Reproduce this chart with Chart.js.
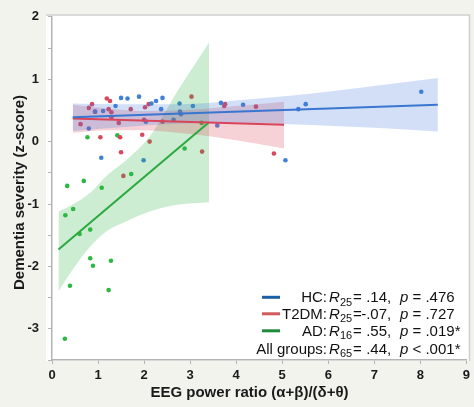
<!DOCTYPE html>
<html>
<head>
<meta charset="utf-8">
<script src="https://cdn.jsdelivr.net/npm/chart.js@4.4.0/dist/chart.umd.min.js"></script>
<style>
  html, body { margin: 0; padding: 0; background: #f3f3ee; }
</style>
</head>
<body>
<canvas id="chart" width="474" height="407"></canvas>
<script>
// scatter data
const hcX = [0.80, 0.94, 1.07, 1.11, 1.38, 1.50, 1.64, 1.89, 1.99, 2.04, 2.16, 2.26, 2.37, 2.40, 2.64, 2.77, 2.78, 2.80, 3.06, 3.59, 3.67, 4.15, 5.07, 5.35, 5.51, 8.02];
const hcY = [0.21, 0.48, -0.26, 0.49, 0.57, 0.70, 0.69, 0.72, -0.30, 0.32, 0.61, 0.65, 0.52, 0.70, 0.35, 0.61, 0.48, 0.44, 0.57, 0.26, 0.62, 0.59, -0.30, 0.52, 0.60, 0.80];

const t2X = [0.62, 0.80, 0.87, 0.93, 1.05, 1.19, 1.23, 1.26, 1.29, 1.29, 1.45, 1.48, 1.50, 1.55, 1.71, 1.96, 2.00, 2.02, 2.10, 2.12, 2.40, 3.03, 3.26, 3.74, 3.76, 4.43, 4.82];
const t2Y = [0.28, 0.54, 0.60, 0.48, 0.07, 0.69, 0.52, 0.65, 0.47, 0.39, 0.30, 0.07, -0.17, -0.55, 0.52, 0.11, 0.35, 0.55, 0.60, 0.00, 0.32, 0.72, -0.16, 0.57, 0.60, 0.56, -0.19];

const adX = [0.28, 0.29, 0.33, 0.39, 0.46, 0.60, 0.69, 0.77, 0.83, 0.83, 0.89, 1.08, 1.23, 1.28, 1.42, 1.72, 2.88, 3.25];
const adY = [-3.16, -1.18, -0.71, -2.31, -1.08, -1.48, -0.63, 0.07, -1.41, -1.87, -1.99, -0.74, -2.38, -1.91, 0.10, -0.52, -0.11, 0.30];

// regression lines
const hcFitX = [0.45, 8.38], hcFitY = [0.39, 0.59];
const t2FitX = [0.45, 5.04], t2FitY = [0.37, 0.27];
const adFitX = [0.14, 3.41], adFitY = [-1.73, 0.31];

// confidence bands
const hcBandX = [0.45, 1.5, 2.8, 4, 5.5, 7, 8.38];
const hcBandHi = [0.61, 0.60, 0.60, 0.66, 0.76, 0.89, 1.02];
const hcBandLo = [0.17, 0.23, 0.29, 0.30, 0.27, 0.22, 0.16];

const t2BandX = [0.45, 1.2, 1.9, 3, 4, 5.04];
const t2BandHi = [0.59, 0.53, 0.49, 0.51, 0.57, 0.64];
const t2BandLo = [0.14, 0.18, 0.18, 0.12, 0.02, -0.11];

const adBandX = [0.14, 0.47, 0.83, 1.18, 1.61, 2.12, 2.76, 3.41];
const adBandHi = [-1.12, -1.00, -0.82, -0.55, -0.30, 0.08, 0.85, 1.59];
const adBandLo = [-2.40, -2.03, -1.68, -1.44, -1.28, -1.12, -1.01, -0.97];

// legend text
const groupNames = ['HC:', 'T2DM:', 'AD:', 'All groups:'];
const groupN = ['25', '25', '16', '65'];
const groupR = ['.14', '-.07', '.55', '.44'];
const groupP = ['= .476', '= .727', '= .019*', '< .001*'];
const groupColors = ['#1d5fa6', '#d05a5e', '#1f8a3c', null];

const xTitle = 'EEG power ratio (α+β)/(δ+θ)';
const yTitle = 'Dementia severity (z-score)';

const FONT = '"Liberation Sans", Arial, sans-serif';

function pts(xs, ys) {
  return xs.map((x, i) => ({ x: x, y: ys[i] }));
}

function scatterSet(xs, ys, color) {
  return { type: 'scatter', data: pts(xs, ys), backgroundColor: color, borderWidth: 0,
           pointRadius: 2.3, pointHoverRadius: 2.3, order: 3 };
}

function bandSets(xs, hi, lo, color) {
  const common = { type: 'line', pointRadius: 0, borderWidth: 0, borderColor: 'transparent',
                   cubicInterpolationMode: 'monotone', order: 2 };
  return [
    Object.assign({}, common, { data: pts(xs, hi), fill: '+1', backgroundColor: color }),
    Object.assign({}, common, { data: pts(xs, lo), fill: false })
  ];
}

function fitSet(xs, ys, color) {
  return { type: 'line', data: pts(xs, ys), borderColor: color, borderWidth: 2,
           pointRadius: 0, fill: false, tension: 0, order: 1 };
}

const frame = {
  id: 'frame',
  beforeDraw(chart) {
    const ctx = chart.ctx;
    ctx.save();
    ctx.fillStyle = '#f3f3ee';
    ctx.fillRect(0, 0, chart.width, chart.height);
    ctx.fillStyle = '#ffffff';
    ctx.fillRect(46, 14, 424, 347);
    ctx.strokeStyle = '#cfcfcf';
    ctx.lineWidth = 1.5;
    ctx.beginPath();
    ctx.moveTo(46, 15);
    ctx.lineTo(469.5, 15);
    ctx.lineTo(469.5, 361);
    ctx.stroke();
    ctx.restore();
  },
  afterDraw(chart) {
    const ctx = chart.ctx;
    ctx.save();
    ctx.fillStyle = '#1a1a1a';
    ctx.font = 'bold 15px ' + FONT;
    ctx.textAlign = 'center';
    ctx.textBaseline = 'middle';
    ctx.fillText(xTitle, 249.5, 393);
    ctx.translate(19.5, 192.5);
    ctx.rotate(-Math.PI / 2);
    ctx.fillText(yTitle, 0, 0);
    ctx.restore();

    // legend with italic R / p and subscripts
    const baselines = [302, 318.5, 335.5, 353.5];
    ctx.save();
    ctx.textBaseline = 'alphabetic';
    ctx.fillStyle = '#111';
    for (let i = 0; i < groupNames.length; i++) {
      const b = baselines[i];
      if (groupColors[i]) {
        ctx.strokeStyle = groupColors[i];
        ctx.lineWidth = 3;
        ctx.beginPath();
        ctx.moveTo(262, b - 4.7);
        ctx.lineTo(280, b - 4.7);
        ctx.stroke();
      }
      ctx.font = '15px ' + FONT;
      ctx.textAlign = 'right';
      ctx.fillText(groupNames[i], 327, b);
      ctx.textAlign = 'left';
      ctx.font = 'italic 15px ' + FONT;
      ctx.fillText('R', 329, b);
      ctx.font = '11px ' + FONT;
      ctx.fillText(groupN[i], 340, b + 3.5);
      ctx.font = '15px ' + FONT;
      ctx.fillText('=', 353, b);
      ctx.textAlign = 'right';
      ctx.fillText(groupR[i], 387, b);
      ctx.textAlign = 'left';
      ctx.fillText(',', 387, b);
      ctx.font = 'italic 15px ' + FONT;
      ctx.fillText('p', 400, b);
      const pw = ctx.measureText('p').width;
      ctx.font = '15px ' + FONT;
      ctx.fillText(' ' + groupP[i], 400 + pw, b);
    }
    ctx.restore();
  }
};

const axisColor = '#b3b3b3';

new Chart(document.getElementById('chart'), {
  type: 'scatter',
  data: {
    datasets: [
      scatterSet(hcX, hcY, '#3f80d8'),
      scatterSet(t2X, t2Y, '#d9475b'),
      scatterSet(adX, adY, '#2db843'),
      ...bandSets(hcBandX, hcBandHi, hcBandLo, 'rgba(66,120,220,0.24)'),
      ...bandSets(t2BandX, t2BandHi, t2BandLo, 'rgba(220,70,90,0.25)'),
      ...bandSets(adBandX, adBandHi, adBandLo, 'rgba(45,180,65,0.24)'),
      fitSet(hcFitX, hcFitY, '#3a76d0'),
      fitSet(t2FitX, t2FitY, '#d9455a'),
      fitSet(adFitX, adFitY, '#2aa83e')
    ]
  },
  options: {
    responsive: false,
    animation: false,
    layout: { padding: { left: 0, right: 5, top: 15, bottom: 0 } },
    plugins: { legend: { display: false }, tooltip: { enabled: false } },
    scales: {
      x: {
        type: 'linear', min: 0, max: 9,
        afterFit: s => { s.height = 47; },
        border: { display: true, color: axisColor, width: 1.5 },
        grid: { drawOnChartArea: false, drawTicks: true, tickLength: 4, color: axisColor },
        ticks: { stepSize: 1, padding: 4, color: '#1a1a1a', font: { family: FONT, size: 13, weight: 'bold' } }
      },
      y: {
        type: 'linear', min: -3.5, max: 2,
        afterFit: s => { s.width = 52; },
        border: { display: true, color: axisColor, width: 1.5 },
        grid: { drawOnChartArea: false, drawTicks: true, tickLength: 4, color: axisColor },
        ticks: {
          stepSize: 0.5, padding: 9, color: '#1a1a1a',
          font: { family: FONT, size: 13, weight: 'bold' },
          callback: v => Number.isInteger(v) ? String(v) : ''
        }
      }
    }
  },
  plugins: [frame]
});
</script>
</body>
</html>
